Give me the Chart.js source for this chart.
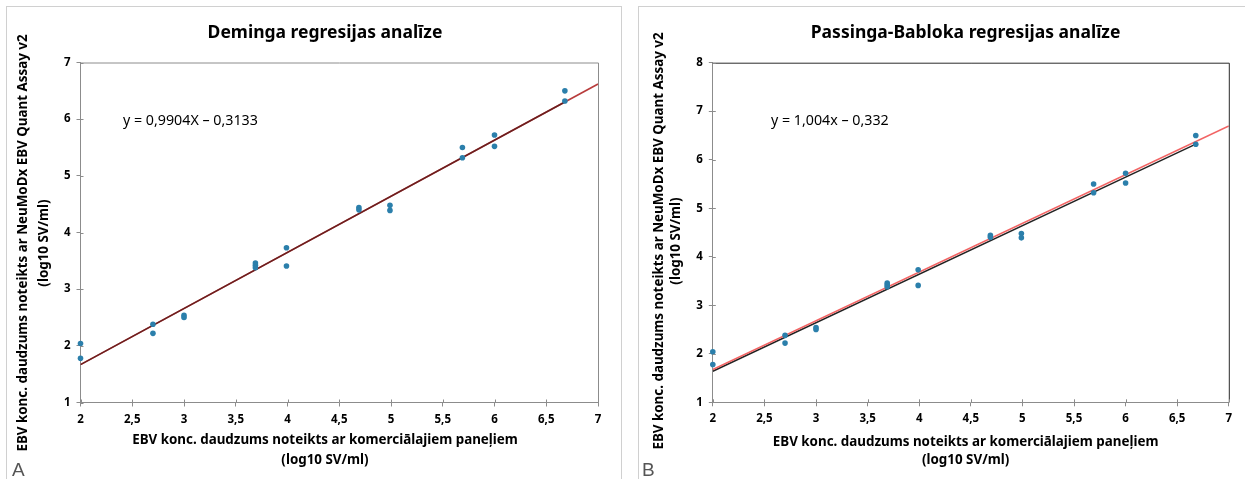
<!DOCTYPE html>
<html>
<head>
<meta charset="utf-8">
<script src="https://cdn.jsdelivr.net/npm/chart.js@4/dist/chart.umd.min.js"></script>
<style>
  html, body { margin:0; padding:0; background:#fff; }
  body { width:1245px; height:479px; overflow:hidden; position:relative; font-family:"Noto Sans", sans-serif; }
  .panel { position:absolute; border:1.5px solid #d0d0d0; box-sizing:border-box; }
  .cv { position:absolute; }
  .tag { position:absolute; font-family:"Liberation Sans", Arial, sans-serif; font-size:19px; color:#555; line-height:20px; }
</style>
</head>
<body>
<div class="panel" style="left:6px;top:6px;width:616px;height:520px;"></div>
<div class="panel" style="left:638px;top:6px;width:700px;height:520px;"></div>
<canvas id="chartA" class="cv" width="614" height="472" style="left:7px;top:7px;width:614px;height:472px;"></canvas>
<canvas id="chartB" class="cv" width="606" height="472" style="left:639px;top:7px;width:606px;height:472px;"></canvas>
<div class="tag" style="left:12px;top:460px;">A</div>
<div class="tag" style="left:642px;top:460px;">B</div>
<script>
// ---- data ----
const panelTitles = ['Deminga regresijas analīze', 'Passinga-Babloka regresijas analīze'];
const xAxisTitle = ['EBV konc. daudzums noteikts ar komerciālajiem paneļiem', '(log10 SV/ml)'];
const yAxisTitle = ['EBV konc. daudzums noteikts ar NeuMoDx EBV Quant Assay v2', '(log10 SV/ml)'];
const equations = ['y = 0,9904X – 0,3133', 'y = 1,004x – 0,332'];
const xTickValues = [2, 2.5, 3, 3.5, 4, 4.5, 5, 5.5, 6, 6.5, 7];
const xTickLabels = ['2', '2,5', '3', '3,5', '4', '4,5', '5', '5,5', '6', '6,5', '7'];
const yTickLabelsA = ['1', '2', '3', '4', '5', '6', '7'];
const yTickLabelsB = ['1', '2', '3', '4', '5', '6', '7', '8'];

const sampleX = [2, 2, 2.7, 2.7, 3, 3, 3.69, 3.69, 3.69, 3.99, 3.99, 4.69, 4.69, 4.99, 4.99, 5.69, 5.69, 6, 6, 6.68, 6.68];
const sampleY = [2.04, 1.78, 2.38, 2.22, 2.54, 2.5, 3.46, 3.42, 3.38, 3.73, 3.41, 4.44, 4.4, 4.48, 4.39, 5.5, 5.32, 5.72, 5.52, 6.5, 6.32];

// Deming panel lines
const demingRedX = [2, 7];
const demingRedY = [1.667, 6.62];
const demingDarkX = [2, 6.68];
const demingDarkY = [1.667, 6.303];
// Passing-Bablok panel lines
const pbRedX = [2, 7];
const pbRedY = [1.676, 6.696];
const pbDarkX = [2, 6.67];
const pbDarkY = [1.64, 6.31];

// ---- helpers ----
function pts(xs, ys) { return xs.map((x, i) => ({ x: x, y: ys[i] })); }
const FAMILY = '"Noto Sans", "Open Sans", sans-serif';
const measureCtx = document.createElement('canvas').getContext('2d');
function fitPx(text, weight, targetWidth) {
  measureCtx.font = weight + ' 100px ' + FAMILY;
  return targetWidth / measureCtx.measureText(text).width * 100;
}
const titleSize = (fitPx(panelTitles[0], 'bold', 235) + fitPx(panelTitles[1], 'bold', 310)) / 2;
const axisTitleSize = (fitPx(xAxisTitle[0], 'bold', 384) + fitPx(yAxisTitle[0], 'bold', 420)) / 2;
const eqSize = (fitPx(equations[0], 'normal', 136) + fitPx(equations[1], 'normal', 117)) / 2;

const textPlugin = {
  id: 'panelText',
  afterDraw(chart, args, opts) {
    const ctx = chart.ctx;
    (opts.items || []).forEach(it => {
      ctx.save();
      ctx.font = it.font;
      ctx.fillStyle = it.color || '#000';
      ctx.textAlign = it.align || 'center';
      ctx.textBaseline = 'middle';
      ctx.translate(it.x, it.y);
      if (it.rotate) ctx.rotate(it.rotate);
      ctx.fillText(it.text, 0, 0);
      ctx.restore();
    });
  }
};

const framePlugin = {
  id: 'plotFrame',
  afterDatasetsDraw(chart, args, opts) {
    const a = chart.chartArea, ctx = chart.ctx;
    ctx.save();
    ctx.strokeStyle = opts.color;
    ctx.lineWidth = 1;
    ctx.beginPath();
    ctx.moveTo(a.left, a.top + 0.5);
    ctx.lineTo(a.right + 0.5, a.top + 0.5);
    ctx.lineTo(a.right + 0.5, a.bottom);
    ctx.stroke();
    // inner half of the cross tick marks
    ctx.strokeStyle = opts.tickColor;
    ctx.beginPath();
    const xs = chart.scales.x, ys = chart.scales.y;
    xs.ticks.forEach(t => { const px = Math.round(xs.getPixelForValue(t.value)) + 0.5; ctx.moveTo(px, a.bottom); ctx.lineTo(px, a.bottom - 3); });
    ys.ticks.forEach(t => { const py = Math.round(ys.getPixelForValue(t.value)) + 0.5; ctx.moveTo(a.left, py); ctx.lineTo(a.left + 3, py); });
    ctx.stroke();
    ctx.restore();
  }
};

function makeChart(id, cfg) {
  const tickFont = { family: FAMILY, size: 11.5, weight: 'bold' };
  const axisColor = '#8c8c8c';
  return new Chart(document.getElementById(id), {
    type: 'scatter',
    data: {
      datasets: [
        { type: 'line', data: pts(cfg.darkX, cfg.darkY), borderColor: cfg.darkColor, borderWidth: cfg.darkWidth, pointRadius: 0, fill: false, order: 3 },
        { type: 'line', data: pts(cfg.redX, cfg.redY), borderColor: cfg.redColor, borderWidth: cfg.redWidth, pointRadius: 0, fill: false, order: cfg.redOrder },
        { data: pts(sampleX, sampleY), backgroundColor: '#2b7fab', borderWidth: 0, pointRadius: 2.8, pointHoverRadius: 2.8, clip: false, order: 0 }
      ]
    },
    options: {
      responsive: false,
      animation: false,
      devicePixelRatio: 1,
      layout: { padding: { top: cfg.top, right: cfg.right, left: 0, bottom: 0 } },
      plugins: {
        legend: { display: false },
        tooltip: { enabled: false },
        title: { display: false },
        plotFrame: { color: cfg.frameColor, tickColor: axisColor },
        panelText: { items: cfg.texts }
      },
      scales: {
        x: {
          type: 'linear', min: 2, max: 7,
          afterBuildTicks: s => { s.ticks = xTickValues.map(v => ({ value: v })); },
          ticks: { callback: (v, i) => xTickLabels[i], font: tickFont, color: '#000', padding: 6, maxRotation: 0, autoSkip: false },
          grid: { display: true, drawOnChartArea: false, drawTicks: true, tickLength: 4, color: axisColor },
          border: { display: true, color: axisColor, width: 1 },
          afterFit: s => { s.height = cfg.xHeight; }
        },
        y: {
          type: 'linear', min: 1, max: cfg.yMax,
          ticks: { stepSize: 1, callback: (v, i) => cfg.yLabels[i], font: tickFont, color: '#000', padding: 6 },
          grid: { display: true, drawOnChartArea: false, drawTicks: true, tickLength: 4, color: axisColor },
          border: { display: true, color: axisColor, width: 1 },
          afterFit: s => { s.width = cfg.yWidth; }
        }
      }
    },
    plugins: [framePlugin, textPlugin]
  });
}

const tFont = 'bold ' + titleSize.toFixed(2) + 'px ' + FAMILY;
const aFont = 'bold ' + axisTitleSize.toFixed(2) + 'px ' + FAMILY;
const eFont = 'normal ' + eqSize.toFixed(2) + 'px ' + FAMILY;

makeChart('chartA', {
  top: 55.5, right: 23, xHeight: 76.5, yWidth: 73.5, yMax: 7, yLabels: yTickLabelsA,
  darkX: demingDarkX, darkY: demingDarkY, darkColor: 'rgba(95,25,25,0.85)', darkWidth: 1.5,
  redX: demingRedX, redY: demingRedY, redColor: '#b83c3c', redWidth: 1.5, redOrder: 4,
  frameColor: '#8c8c8c',
  texts: [
    { text: panelTitles[0], x: 318, y: 26, font: tFont },
    { text: yAxisTitle[0], x: 16, y: 236, font: aFont, rotate: -Math.PI / 2 },
    { text: yAxisTitle[1], x: 37, y: 236, font: aFont, rotate: -Math.PI / 2 },
    { text: xAxisTitle[0], x: 318, y: 433, font: aFont },
    { text: xAxisTitle[1], x: 318, y: 453, font: aFont },
    { text: equations[0], x: 116, y: 114, font: eFont, align: 'left' }
  ]
});

makeChart('chartB', {
  top: 55.7, right: 16.2, xHeight: 76.7, yWidth: 73.8, yMax: 8, yLabels: yTickLabelsB,
  darkX: pbDarkX, darkY: pbDarkY, darkColor: '#222222', darkWidth: 1.5,
  redX: pbRedX, redY: pbRedY, redColor: '#f26464', redWidth: 1.5, redOrder: 2,
  frameColor: '#2a2a2a',
  texts: [
    { text: panelTitles[1], x: 326.6, y: 26, font: tFont },
    { text: yAxisTitle[0], x: 20, y: 234, font: aFont, rotate: -Math.PI / 2 },
    { text: yAxisTitle[1], x: 37, y: 234, font: aFont, rotate: -Math.PI / 2 },
    { text: xAxisTitle[0], x: 326.6, y: 435, font: aFont },
    { text: xAxisTitle[1], x: 326.6, y: 453, font: aFont },
    { text: equations[1], x: 132, y: 114, font: eFont, align: 'left' }
  ]
});
</script>
</body>
</html>
